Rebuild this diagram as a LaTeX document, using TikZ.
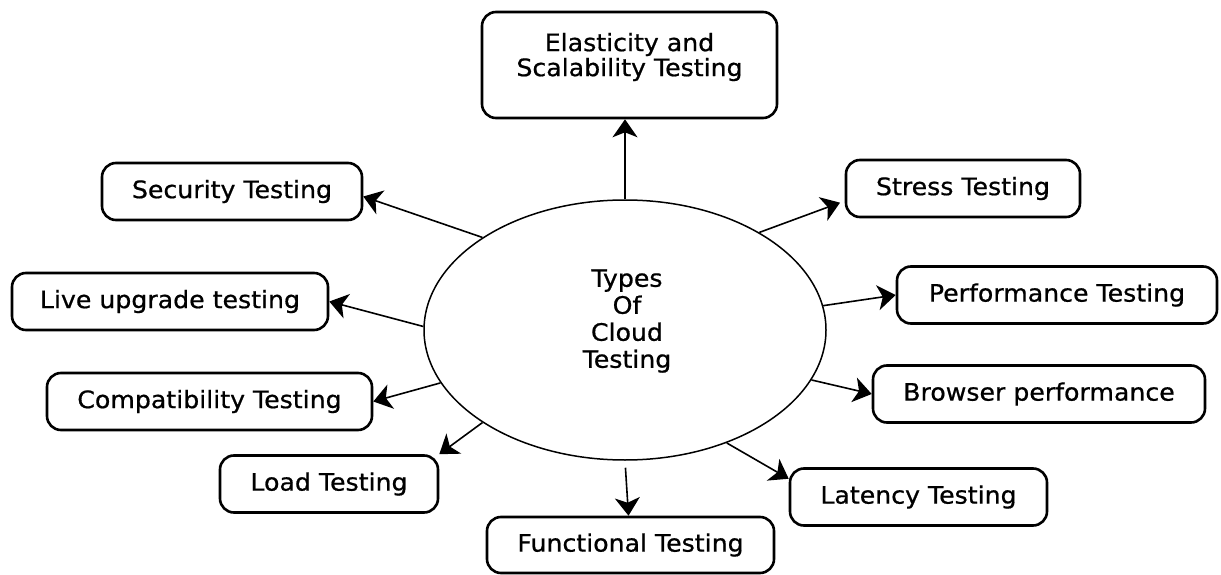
\documentclass[tikz,border=0pt]{standalone}
\usepackage{fontspec}
\newfontfamily\diagfont[FakeStretch=1.05, FakeBold=0.7]{DejaVu Sans}
\usetikzlibrary{shapes, arrows.meta, positioning, calc}

\begin{document}
\begin{tikzpicture}[
        x=1pt, y=-1pt,
        % styles for the boxes, the centre ellipse and the connectors
        block/.style={
            rectangle,
            draw,
            line width=2.6pt,
            rounded corners=14pt,
            minimum height=57pt,
            inner sep=0pt,
            align=center,
            font=\diagfont\fontsize{24}{27}\selectfont
        },
        hub/.style={
            ellipse,
            draw,
            line width=1.5pt,
            minimum width=402pt,
            minimum height=260pt
        },
        arrow/.style={
            -{Stealth[length=18pt, width=25pt, inset=5pt]},
            line width=1.6pt
        },
        label_text/.style={
            align=center,
            inner sep=0pt,
            font=\diagfont\fontsize{24}{27}\selectfont
        }
    ]

    \path[use as bounding box, fill=white] (0,0) rectangle (1221,575);

    % --- centre ---
    \node[hub] (hub) at (625,330) {};
    \node[label_text] (hubTxt) at (627,321) {Types\\Of\\Cloud\\Testing};

    % --- boxes round the centre ---
    \node[block, minimum width=295pt, minimum height=106pt] (elast) at (629.5,65) {};
    \node[label_text, font=\diagfont\fontsize{24}{25}\selectfont, below=22pt of elast.north] (elastTxt) {Elasticity and\\Scalability Testing};

    \node[block, minimum width=260pt] (secur) at (232,191.5) {Security Testing};
    \node[block, minimum width=316pt] (live) at (170,301.5) {Live upgrade testing};
    \node[block, minimum width=325pt] (compat) at (209.5,401.5) {Compatibility Testing};
    \node[block, minimum width=218pt] (load) at (329,484) {Load Testing};
    \node[block, minimum width=287pt, minimum height=56pt] (func) at (630.5,545) {Functional Testing};
    \node[block, minimum width=257pt] (laten) at (918.5,497) {Latency Testing};
    \node[block, minimum width=332pt] (brows) at (1039,394) {Browser performance};
    \node[block, minimum width=320pt] (perf) at (1057,295) {Performance Testing};
    \node[block, minimum width=234pt] (stress) at (963,188.5) {Stress Testing};

    % --- connectors ---
    \draw[arrow] (hub.north) -- (hub.north |- elast.south);
    \draw[arrow] (hub.147) -- ([yshift=-5pt]secur.east);
    \draw[arrow] (hub.179) -- (live.east);
    \draw[arrow] (hub.196) -- (compat.east);
    \draw[arrow] (hub.213) -- (load.north east);
    \draw[arrow, shorten <=7pt] (hub.south) -- ([xshift=-2pt]func.north);
    \draw[arrow] (hub.-48) -- (laten.172);
    \draw[arrow] (hub.-15) -- (brows.west);
    \draw[arrow] (hub.7) -- (perf.west);
    \draw[arrow, shorten >=5pt] (hub.36) -- (stress.186);

\end{tikzpicture}
\end{document}
